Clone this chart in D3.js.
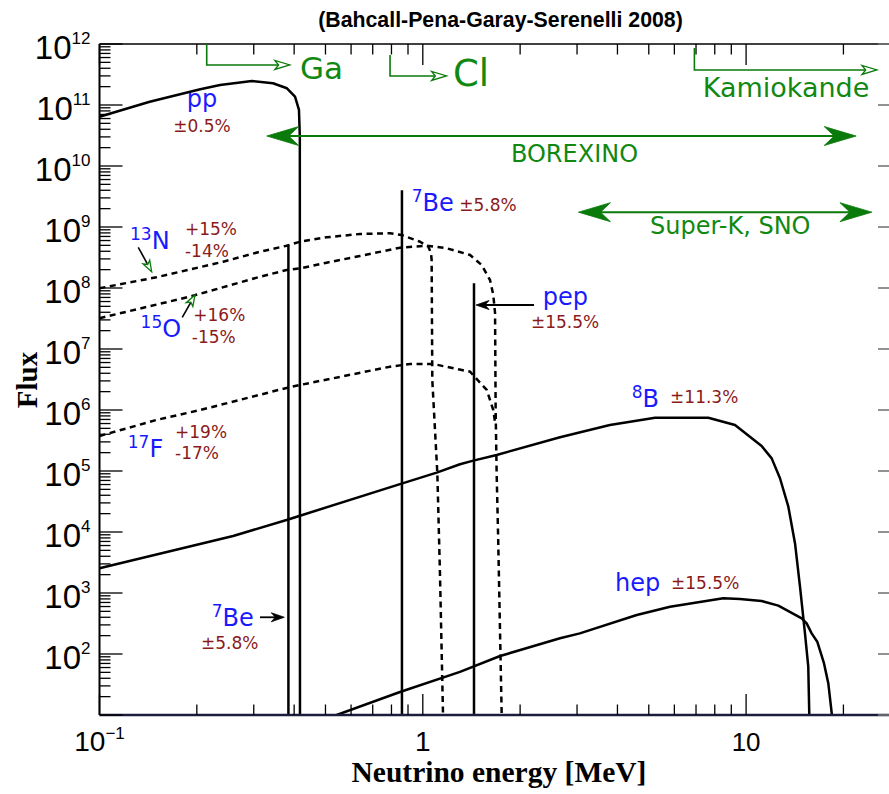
<!DOCTYPE html>
<html><head><meta charset="utf-8">
<script src="https://cdn.jsdelivr.net/npm/d3@7"></script>
<style>body{margin:0;background:#fff} svg{display:block}</style>
</head><body><svg id="c" width="889" height="794"></svg>
<script>
// ---------------- data ----------------
const titleText = "(Bahcall-Pena-Garay-Serenelli 2008)";
const xTitle = "Neutrino energy [MeV]";
const yTitle = "Flux";
const xMajorTicks = [0.1, 1, 10];
const xMinorTicks = [0.2,0.3,0.4,0.5,0.6,0.7,0.8,0.9,2,3,4,5,6,7,8,9,20];
const xTickLabels = [{v:0.1, base:"10", exp:"\u22121", size:28}, {v:1, base:"1", exp:"", size:28}, {v:10, base:"10", exp:"", size:26}];
const yMajorExps = [1,2,3,4,5,6,7,8,9,10,11,12];
const yLabelExps = [2,3,4,5,6,7,8,9,10,11,12];
const yMinorMult = [2,3,4,5,6,7,8,9];

// continuous spectra [E (MeV), flux]
const ppSpec = [[0.1,6.43e10],[0.143,1.13e11],[0.205,1.81e11],[0.236,2.13e11],[0.296,2.47e11],[0.344,2.27e11],[0.380,1.88e11],[0.4025,1.37e11],[0.414,8.3e10],[0.4165,3e10],[0.417,5]];
const b8Spec = [[0.1,2.54e3],[0.259,8.6e3],[0.379,1.57e4],[0.417,1.85e4],[0.85,6.1e4],[1.104,9.4e4],[1.303,1.29e5],[1.433,1.48e5],[1.692,1.83e5],[2.657,3.57e5],[3.79,5.67e5],[5.23,7.48e5],[7.64,7.48e5],[9.24,5.67e5],[11.17,2.57e5],[12.0,1.61e5],[12.73,7.6e4],[13.51,2.6e4],[14.17,6.5e3],[14.68,1.27e3],[15.21,218],[15.57,62],[15.68,10.7],[15.7,5]];
const hepSpec = [[0.5416,10],[0.85,23.8],[1.303,51],[1.734,92.7],[2.657,181],[3.06,218],[4.59,436],[5.82,596],[8.5,818],[9.57,800],[11.17,740],[12.58,620],[14.86,385],[15.39,318],[15.95,218],[16.6,159],[17.42,70],[17.96,33],[18.4,10.7],[18.45,5]];
const n13Spec = [[0.1,9.9e7],[0.15,1.5e8],[0.2415,2.7e8],[0.314,3.94e8],[0.379,4.93e8],[0.417,5.74e8],[0.504,6.78e8],[0.639,7.68e8],[0.792,7.89e8],[0.86,7.39e8],[0.98,5.74e8],[1.04,4.75e8],[1.06,3.75e8],[1.065,2.9e8],[1.07,3.1e6],[1.109,9.3e4],[1.13,2.1e3],[1.155,10]];
const o15Spec = [[0.1,3.2e7],[0.19,7.2e7],[0.314,1.53e8],[0.379,1.97e8],[0.417,2.1e8],[0.504,2.6e8],[0.639,3.35e8],[0.85,4.58e8],[1.028,4.93e8],[1.186,4.48e8],[1.40,3.48e8],[1.521,2.38e8],[1.614,1.35e8],[1.652,7.7e7],[1.673,3.9e7],[1.68,1e6],[1.692,9.3e4],[1.711,7.4e3],[1.754,10]];
const f17Spec = [[0.1,3.75e5],[0.15,6.86e5],[0.205,1.0e6],[0.379,2.3e6],[0.417,2.57e6],[0.792,5.13e6],[0.913,5.68e6],[1.078,5.68e6],[1.30,4.6e6],[1.40,4.25e6],[1.577,2.13e6],[1.652,1.0e6],[1.675,6e5]];
// lines [E, flux]
const lineSources = [[0.384,4.9e8],[0.862,4.0e9],[1.44,1.2e8]];

// labels: name text (blue) with optional superscript; uncertainty text (dark red)
const nameLabels = [
  {sup:"",   txt:"pp",  E:0.2075, F:9.3e10, anchor:"middle"},
  {sup:"13", txt:"N",   E:0.1243, F:4.31e8, anchor:"start"},
  {sup:"15", txt:"O",   E:0.134,  F:1.59e7, anchor:"start"},
  {sup:"17", txt:"F",   E:0.1223, F:1.71e5, anchor:"start"},
  {sup:"7",  txt:"Be",  E:0.924,  F:1.83e9, anchor:"start"},
  {sup:"",   txt:"pep", E:2.349,  F:5.26e7, anchor:"start"},
  {sup:"8",  txt:"B",   E:4.43,   F:1.11e6, anchor:"start"},
  {sup:"",   txt:"hep", E:3.93,   F:1.09e3, anchor:"start"},
  {sup:"7",  txt:"Be",  E:0.2223, F:291,    anchor:"start"}
];
const errLabels = [
  {txt:"\u00b10.5%", E:0.2075, F:3.65e10, anchor:"middle"},
  {txt:"+15%", E:0.1838, F:7.39e8, anchor:"start"},
  {txt:"-14%", E:0.1838, F:3.26e8, anchor:"start"},
  {txt:"+16%", E:0.195, F:2.91e7, anchor:"start"},
  {txt:"-15%", E:0.193, F:1.27e7, anchor:"start"},
  {txt:"+19%", E:0.1713, F:3.44e5, anchor:"start"},
  {txt:"-17%", E:0.1713, F:1.56e5, anchor:"start"},
  {txt:"\u00b15.8%", E:1.297, F:1.8e9, anchor:"start"},
  {txt:"\u00b115.5%", E:2.161, F:2.18e7, anchor:"start"},
  {txt:"\u00b111.3%", E:5.82, F:1.29e6, anchor:"start"},
  {txt:"\u00b115.5%", E:5.86, F:1.15e3, anchor:"start"},
  {txt:"\u00b15.8%", E:0.206, F:119, anchor:"start"}
];
// detector thresholds: [E threshold, F top, F bend, E arrow end], label
const thresholds = [
  {name:"Ga", E:0.2146, Ftop:1e12, Fbend:4.53e11, Eend:0.388, tE:0.417, tF:2.67e11, size:31},
  {name:"Cl", E:0.792, Ftop:6.6e11, Fbend:2.99e11, Eend:1.185, tE:1.24, tF:2.05e11, size:37},
  {name:"Kamiokande", E:6.92, Ftop:8.6e11, Fbend:3.75e11, Eend:25.4, tE:7.34, tF:1.34e11, size:27}
];
// detector ranges (double arrows)
const ranges = [
  {name:"BOREXINO", E0:0.329, E1:21.9, F:3.1e10, tE:2.946, tF:1.15e10, anchor:"middle"},
  {name:"Super-K, SNO", E0:3.03, E1:24.5, F:1.75e9, tE:5.044, tF:7.68e8, anchor:"start"}
];
// pointer arrows: from [E,F] to [E,F]
const blackArrows = [
  {from:[2.208,5.26e7], to:[1.461,5.26e7]},
  {from:[0.3136,400], to:[0.3729,400]}
];
const greenTipArrows = [
  {from:[0.1318,4.65e8], to:[0.145,1.85e8]},
  {from:[0.1803,3.31e7], to:[0.1974,7.68e7]}
];

// ---------------- drawing ----------------
const svg = d3.select("#c");
const x = d3.scaleLog().domain([0.1, 27.67]).range([99.5, 889]);
const y = d3.scaleLog().domain([10, 1e12]).range([715, 44]);
const blue = "#1a1aff", red = "#8b1a1a", green = "#118811", greenA = "#0a7a0a";
const annFont = "DejaVu Sans, sans-serif";

svg.append("defs").append("clipPath").attr("id","clip")
  .append("rect").attr("x",99.5).attr("y",44).attr("width",789.5).attr("height",671);

const line = d3.line().x(d=>x(d[0])).y(d=>y(d[1]));
const plot = svg.append("g").attr("clip-path","url(#clip)");

[ppSpec, b8Spec, hepSpec].forEach(s=>{
  plot.append("path").attr("d", line(s)).attr("fill","none").attr("stroke","#000").attr("stroke-width",2.5).attr("stroke-linejoin","round");
});
[n13Spec, o15Spec, f17Spec].forEach(s=>{
  plot.append("path").attr("d", line(s)).attr("fill","none").attr("stroke","#000").attr("stroke-width",2.5).attr("stroke-dasharray","6,4.5");
});
lineSources.forEach(d=>{
  plot.append("line").attr("x1",x(d[0])).attr("x2",x(d[0])).attr("y1",y(d[1])).attr("y2",y(10))
    .attr("stroke","#000").attr("stroke-width",2.5);
});

// ---------- axes frame ----------
const ax = svg.append("g");
const x0 = x.range()[0], x1 = x.range()[1], yTop = y.range()[1], yBot = y.range()[0];
ax.append("line").attr("x1",x0).attr("x2",x1).attr("y1",yTop).attr("y2",yTop).attr("stroke","#000").attr("stroke-width",1.6);
ax.append("line").attr("x1",x0).attr("x2",x0).attr("y1",yTop).attr("y2",yBot).attr("stroke","#000").attr("stroke-width",2);
ax.append("line").attr("x1",x0).attr("x2",x1).attr("y1",yBot).attr("y2",yBot).attr("stroke","#1c1c3c").attr("stroke-width",2.5);

function xt(v, len){
  ax.append("line").attr("x1",x(v)).attr("x2",x(v)).attr("y1",yBot).attr("y2",yBot-len).attr("stroke","#000").attr("stroke-width",1.3);
  ax.append("line").attr("x1",x(v)).attr("x2",x(v)).attr("y1",yTop).attr("y2",yTop+len).attr("stroke","#000").attr("stroke-width",1.3);
}
xMajorTicks.forEach(v=>xt(v,21));
xMinorTicks.forEach(v=>xt(v,10.5));
yMajorExps.forEach(e=>{
  const v = Math.pow(10,e);
  ax.append("line").attr("x1",x0).attr("x2",x0+23).attr("y1",y(v)).attr("y2",y(v)).attr("stroke","#000").attr("stroke-width",1.3);
  ax.append("line").attr("x1",x1-11).attr("x2",x1).attr("y1",y(v)).attr("y2",y(v)).attr("stroke","#777").attr("stroke-width",1.6);
  if(e<12) yMinorMult.forEach(m=>{
    const vv = m*v;
    ax.append("line").attr("x1",x0).attr("x2",x0+11).attr("y1",y(vv)).attr("y2",y(vv)).attr("stroke","#000").attr("stroke-width",1.3);
  });
});
yLabelExps.forEach(e=>{
  const t = ax.append("text").attr("x",90.5).attr("y",y(Math.pow(10,e))+15)
    .attr("text-anchor","end").attr("font-family","Liberation Sans, Arial, sans-serif").attr("font-size",33).attr("fill","#000");
  t.append("tspan").text("10");
  t.append("tspan").attr("dy",-15).attr("font-size",17).text(String(e));
});
xTickLabels.forEach(d=>{
  const t = ax.append("text").attr("x",x(d.v)).attr("y",751)
    .attr("text-anchor","middle").attr("font-family","Liberation Sans, Arial, sans-serif").attr("font-size",d.size).attr("fill","#000");
  t.append("tspan").text(d.base);
  if(d.exp) t.append("tspan").attr("dy",-12).attr("font-size",17).text(d.exp);
});
svg.append("text").attr("x",500.5).attr("y",27).attr("text-anchor","middle")
  .attr("font-family","Liberation Sans, Arial, sans-serif").attr("font-weight","bold").attr("font-size",21.3).text(titleText);
svg.append("text").attr("x",499).attr("y",782).attr("text-anchor","middle")
  .attr("font-family","Liberation Serif, Times New Roman, serif").attr("font-weight","bold").attr("font-size",29.5).text(xTitle);
svg.append("text").attr("transform","translate(37,380) rotate(-90)").attr("text-anchor","middle")
  .attr("font-family","Liberation Serif, Times New Roman, serif").attr("font-weight","bold").attr("font-size",29).text(yTitle);

// ---------- annotations ----------
const ann = svg.append("g");
nameLabels.forEach(d=>{
  const t = ann.append("text").attr("x",x(d.E)).attr("y",y(d.F)).attr("text-anchor",d.anchor)
    .attr("font-family",annFont).attr("font-size",24).attr("fill",blue);
  if(d.sup){
    t.append("tspan").attr("font-size",17).attr("dy",-9).text(d.sup);
    t.append("tspan").attr("dy",9).text(d.txt);
  } else t.text(d.txt);
});
errLabels.forEach(d=>{
  ann.append("text").attr("x",x(d.E)).attr("y",y(d.F)).attr("text-anchor",d.anchor)
    .attr("font-family",annFont).attr("font-size",17).attr("fill",red).text(d.txt);
});

function unit(p0,p1){const dx=p1[0]-p0[0], dy=p1[1]-p0[1], L=Math.hypot(dx,dy); return [dx/L, dy/L];}
function sweptHead(g, tip, u, len, hw, notch, color){
  const n=[-u[1],u[0]];
  const pts=[tip,[tip[0]-u[0]*len+n[0]*hw, tip[1]-u[1]*len+n[1]*hw],[tip[0]-u[0]*notch, tip[1]-u[1]*notch],[tip[0]-u[0]*len-n[0]*hw, tip[1]-u[1]*len-n[1]*hw]];
  g.append("path").attr("d","M"+pts.map(p=>p.join(",")).join("L")+"Z").attr("fill",color).attr("stroke",color).attr("stroke-width",0.8);
}
function openHead(g, tip, u, len, hw, color){
  const n=[-u[1],u[0]];
  const pts=[tip,[tip[0]-u[0]*len+n[0]*hw, tip[1]-u[1]*len+n[1]*hw],[tip[0]-u[0]*len*0.75, tip[1]-u[1]*len*0.75],[tip[0]-u[0]*len-n[0]*hw, tip[1]-u[1]*len-n[1]*hw]];
  g.append("path").attr("d","M"+pts.map(p=>p.join(",")).join("L")+"Z").attr("fill","#fff").attr("stroke",color).attr("stroke-width",1.3);
}

thresholds.forEach(d=>{
  const p0=[x(d.E),y(d.Ftop)], p1=[x(d.E),y(d.Fbend)], p2=[x(d.Eend),y(d.Fbend)];
  ann.append("path").attr("d",`M${p0}L${p1}L${p2[0]-10},${p2[1]}`).attr("fill","none").attr("stroke",greenA).attr("stroke-width",1.6);
  openHead(ann, p2, [1,0], 15, 4.5, greenA);
  ann.append("text").attr("x",x(d.tE)).attr("y",y(d.tF)).attr("font-family",annFont).attr("font-size",d.size).attr("fill",green).text(d.name);
});
ranges.forEach(d=>{
  const a=[x(d.E0),y(d.F)], b=[x(d.E1),y(d.F)];
  ann.append("line").attr("x1",a[0]+20).attr("x2",b[0]-20).attr("y1",a[1]).attr("y2",b[1]).attr("stroke",greenA).attr("stroke-width",2);
  sweptHead(ann, a, [-1,0], 32, 9.5, 22, greenA);
  sweptHead(ann, b, [1,0], 32, 9.5, 22, greenA);
  ann.append("text").attr("x",x(d.tE)).attr("y",y(d.tF)).attr("text-anchor",d.anchor).attr("font-family",annFont).attr("font-size",24).attr("fill",green).text(d.name);
});
blackArrows.forEach(d=>{
  const a=[x(d.from[0]),y(d.from[1])], b=[x(d.to[0]),y(d.to[1])];
  const u=unit(a,b);
  ann.append("line").attr("x1",a[0]).attr("y1",a[1]).attr("x2",b[0]-u[0]*6).attr("y2",b[1]-u[1]*6).attr("stroke","#000").attr("stroke-width",1.8);
  sweptHead(ann, b, u, 13, 4.5, 9, "#000");
});
greenTipArrows.forEach(d=>{
  const a=[x(d.from[0]),y(d.from[1])], b=[x(d.to[0]),y(d.to[1])];
  const u=unit(a,b);
  ann.append("line").attr("x1",a[0]).attr("y1",a[1]).attr("x2",b[0]-u[0]*9).attr("y2",b[1]-u[1]*9).attr("stroke","#000").attr("stroke-width",1.6);
  openHead(ann, b, u, 11, 3.8, greenA);
});
</script></body></html>
